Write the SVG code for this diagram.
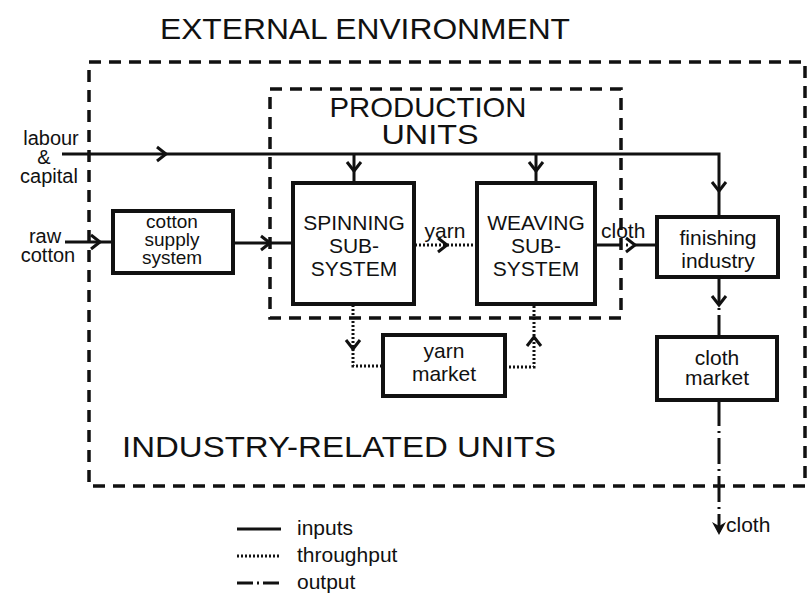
<svg xmlns="http://www.w3.org/2000/svg" width="810" height="598" viewBox="0 0 810 598">
<style>
text{font-family:"Liberation Sans","DejaVu Sans",sans-serif;fill:#111}
.t{font-size:21px;text-anchor:middle}
.s{font-size:19px;text-anchor:middle}
.lbl{font-size:21px}
.side{font-size:20px;text-anchor:middle}
.cap{font-size:21px;text-anchor:middle}
.big{font-size:30px}
.box{fill:#fff;stroke:#111;stroke-width:4}
.dash{fill:none;stroke:#111;stroke-width:3.5;stroke-dasharray:12 8}
.in{fill:none;stroke:#111;stroke-width:3}
.thr{fill:none;stroke:#111;stroke-width:3;stroke-dasharray:2 2}
.out{fill:none;stroke:#111;stroke-width:3;stroke-dasharray:26 5 2 5}
.chev{fill:none;stroke:#111;stroke-width:3;stroke-linejoin:miter}
.head{fill:#111;stroke:none}
</style>
<defs>
  <path id="ch" class="chev" d="M-9,-7 L0,0 L-9,7"/>
  <path id="hd" class="head" d="M0,0 L-13,-7 L-9,0 L-13,7 Z"/>
</defs>
<rect width="810" height="598" fill="#fff"/>

<!-- system boundaries -->
<g id="boundaries">
  <text class="big" x="160" y="39" textLength="410" lengthAdjust="spacingAndGlyphs">EXTERNAL  ENVIRONMENT</text>
  <rect class="dash" x="89" y="62" width="716" height="424"/>
  <rect class="dash" x="270" y="89" width="351" height="229"/>
  <text class="big" x="428" y="117" text-anchor="middle" textLength="197" lengthAdjust="spacingAndGlyphs" style="font-size:28px">PRODUCTION</text>
  <text class="big" x="430" y="144" text-anchor="middle" textLength="97" lengthAdjust="spacingAndGlyphs" style="font-size:28px">UNITS</text>
  <text class="big" x="122" y="457" textLength="434" lengthAdjust="spacingAndGlyphs">INDUSTRY-RELATED  UNITS</text>
</g>

<!-- flows between units -->
<g id="connectors">
  <!-- labour & capital -->
  <path class="in" d="M62,154 H719 V217"/>
  <path class="in" d="M354,154 V183"/>
  <path class="in" d="M536,154 V183"/>
  <use href="#ch" transform="translate(166,154)"/>
  <use href="#ch" transform="translate(354,171) rotate(90)"/>
  <use href="#ch" transform="translate(536,171) rotate(90)"/>
  <use href="#ch" transform="translate(719,191) rotate(90)"/>
  <!-- raw cotton -->
  <path class="in" d="M65,242 H113"/>
  <use href="#ch" transform="translate(100,242)"/>
  <path class="in" d="M233,243 H293"/>
  <use href="#ch" transform="translate(270,243)"/>
  <!-- yarn -->
  <path class="thr" d="M415,245 H477"/>
  <use href="#ch" transform="translate(447,245)"/>
  <!-- cloth -->
  <path class="out" d="M595,245 H657"/>
  <use href="#ch" transform="translate(635,245)"/>
  <path class="out" d="M719,277 V337"/>
  <use href="#ch" transform="translate(719,305) rotate(90)"/>
  <path class="out" d="M719,400 V532"/>
  <use href="#hd" transform="translate(719,535) rotate(90)"/>
  <!-- yarn market loop -->
  <path class="thr" d="M353,305 V366 H383"/>
  <use href="#ch" transform="translate(353,349) rotate(90)"/>
  <path class="thr" d="M505,367 H534 V305"/>
  <use href="#ch" transform="translate(534,337) rotate(-90)"/>
</g>

<!-- flow labels -->
<g id="labels">
  <text class="side" x="51" y="145">labour</text>
  <text class="side" x="44" y="164">&amp;</text>
  <text class="side" x="49" y="183">capital</text>
  <text class="side" x="45" y="243">raw</text>
  <text class="side" x="48" y="262">cotton</text>
  <text class="lbl" x="445" y="238" text-anchor="middle">yarn</text>
  <text class="lbl" x="601" y="238">cloth</text>
  <text class="lbl" x="726" y="532">cloth</text>
</g>

<g id="cotton-supply">
  <rect class="box" x="113" y="211" width="120" height="62"/>
  <text class="s" x="172" y="228">cotton</text>
  <text class="s" x="172" y="246">supply</text>
  <text class="s" x="172" y="264">system</text>
</g>

<g id="spinning">
  <rect class="box" x="293" y="183" width="121" height="121"/>
  <text class="cap" x="354" y="230">SPINNING</text>
  <text class="cap" x="354" y="253">SUB-</text>
  <text class="cap" x="354" y="276">SYSTEM</text>
</g>

<g id="weaving">
  <rect class="box" x="477" y="183" width="118" height="121"/>
  <text class="cap" x="536" y="230">WEAVING</text>
  <text class="cap" x="536" y="253">SUB-</text>
  <text class="cap" x="536" y="276">SYSTEM</text>
</g>

<g id="finishing">
  <rect class="box" x="657" y="217" width="121" height="60"/>
  <text class="t" x="718" y="245">finishing</text>
  <text class="t" x="718" y="268">industry</text>
</g>

<g id="cloth-market">
  <rect class="box" x="657" y="337" width="120" height="63"/>
  <text class="t" x="717" y="365">cloth</text>
  <text class="t" x="717" y="385">market</text>
</g>

<g id="yarn-market">
  <rect class="box" x="383" y="335" width="122" height="61"/>
  <text class="t" x="444" y="358">yarn</text>
  <text class="t" x="444" y="381">market</text>
</g>

<!-- key to line styles -->
<g id="legend">
  <path class="in" d="M237,529 H281"/>
  <path class="thr" d="M237,556 H281"/>
  <path class="out" d="M237,583 H281" style="stroke-dasharray:16 4 2 4"/>
  <text class="lbl" x="297" y="535">inputs</text>
  <text class="lbl" x="297" y="562">throughput</text>
  <text class="lbl" x="297" y="589">output</text>
</g>
</svg>
